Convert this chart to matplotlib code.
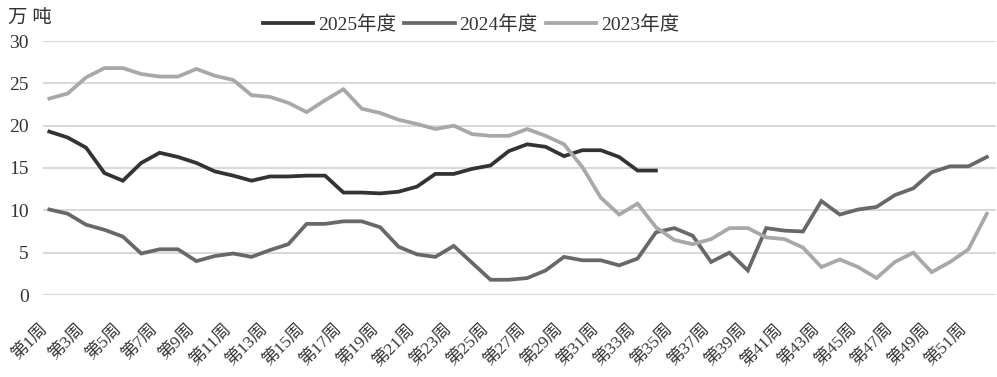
import matplotlib
matplotlib.use("Agg")
import matplotlib.pyplot as plt
import matplotlib.transforms as mtransforms

plt.rcParams['font.family'] = ['Liberation Serif', 'Noto Sans CJK SC']

weeks = [f"第{i}周" for i in range(1, 53)]

s2025 = [19.3, 18.6, 17.4, 14.4, 13.5, 15.6, 16.8, 16.3, 15.6, 14.6,
         14.1, 13.5, 14.0, 14.0, 14.1, 14.1, 12.1, 12.1, 12.0, 12.2,
         12.8, 14.3, 14.3, 14.9, 15.3, 17.0, 17.8, 17.5, 16.4, 17.1,
         17.1, 16.3, 14.7, 14.7]

s2024 = [10.1, 9.6, 8.3, 7.7, 6.9, 4.9, 5.4, 5.4, 4.0, 4.6,
         4.9, 4.5, 5.3, 6.0, 8.4, 8.4, 8.7, 8.7, 8.0, 5.7,
         4.8, 4.5, 5.8, 3.8, 1.8, 1.8, 2.0, 2.9, 4.5, 4.1,
         4.1, 3.5, 4.3, 7.4, 7.9, 7.0, 3.9, 5.0, 2.9, 7.9,
         7.6, 7.5, 11.1, 9.5, 10.1, 10.4, 11.8, 12.6, 14.5, 15.2,
         15.2, 16.3]

s2023 = [23.2, 23.8, 25.7, 26.8, 26.8, 26.1, 25.8, 25.8, 26.7, 25.9,
         25.4, 23.6, 23.4, 22.7, 21.6, 23.0, 24.3, 22.0, 21.5, 20.7,
         20.2, 19.6, 20.0, 19.0, 18.8, 18.8, 19.6, 18.8, 17.8, 15.1,
         11.5, 9.5, 10.8, 8.0, 6.5, 6.0, 6.6, 7.9, 7.9, 6.8,
         6.6, 5.6, 3.3, 4.2, 3.3, 2.0, 3.9, 5.0, 2.7, 3.9,
         5.4, 9.6]

names = ["2025年度", "2024年度", "2023年度"]
colors = ["#333333", "#686868", "#a8a8a8"]
yticks = [0, 5, 10, 15, 20, 25, 30]

fig = plt.figure(figsize=(9.97, 3.77), dpi=100)
ax = fig.add_axes([42.7 / 997, 1 - 295 / 377, (996 - 42.7) / 997, (295 - 41) / 377])

x = list(range(len(weeks)))
ax.plot(x[:len(s2025)], s2025, color=colors[0], lw=2.7, label=names[0], solid_joinstyle='miter')
ax.plot(x, s2024, color=colors[1], lw=2.7, label=names[1], solid_joinstyle='miter')
ax.plot(x, s2023, color=colors[2], lw=2.7, label=names[2], solid_joinstyle='miter')

ax.set_ylim(0, 30)
ax.set_xlim(-0.36, 51.5)
ax.set_yticks(yticks)
ax.set_yticklabels([str(v) for v in yticks], fontsize=14, color="#333333")
ax.yaxis.grid(True, color="#d9d9d9", lw=1.5)
ax.set_axisbelow(True)
for sp in ax.spines.values():
    sp.set_visible(False)
ax.tick_params(axis='y', length=0, pad=10)
ax.tick_params(axis='x', length=0, pad=23)

tick_pos = x[::2]
ax.set_xticks(tick_pos)
ax.set_xticklabels(weeks[::2], rotation=45, ha='right', va='center',
                   rotation_mode='anchor', fontsize=12.5, color="#3a3a3a")
offset = mtransforms.ScaledTranslation(-4 / 100, 0, fig.dpi_scale_trans)
for lab in ax.get_xticklabels():
    lab.set_transform(lab.get_transform() + offset)

fig.text(30 / 997, 1 - 18 / 377, "万 吨", fontsize=14, ha='center', va='center', color="#333333")

fig.legend(loc='center', bbox_to_anchor=(471 / 997, 1 - 25 / 377), ncol=3, frameon=False,
           fontsize=14, handlelength=2.6, handletextpad=0.25, columnspacing=0.4,
           borderpad=0, labelcolor="#333333")

fig.savefig("out.png", dpi=100)
